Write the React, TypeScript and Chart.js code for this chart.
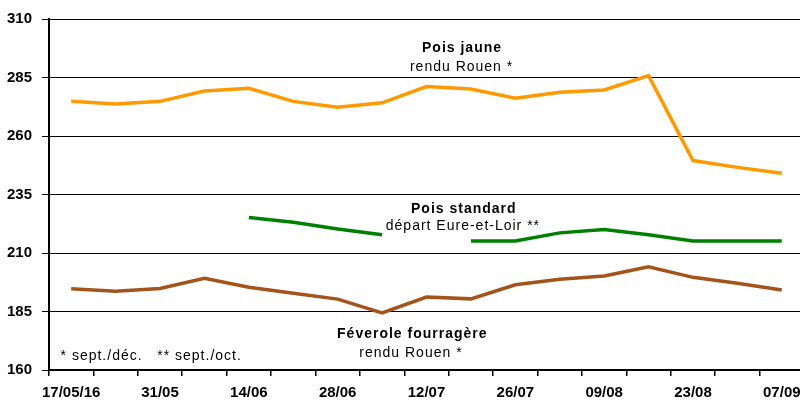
import React, { useEffect, useRef } from "react";
import { Chart, registerables } from "chart.js";

Chart.register(...registerables);

const categories = [
  "17/05/16", "24/05", "31/05", "07/06", "14/06", "21/06", "28/06", "05/07",
  "12/07", "19/07", "26/07", "02/08", "09/08", "16/08", "23/08", "30/08", "07/09",
];

const poisJaune = [
  274.8, 273.7, 274.8, 279.2, 280.4, 274.8, 272.3, 274.2,
  281.1, 280.1, 276.1, 278.7, 279.7, 285.8, 249.5, 246.6, 244.1,
];

const poisStandard = [
  null, null, null, null, 225.2, 223.1, 220.3, 217.8,
  null, 215.1, 215.1, 218.6, 220.0, 217.8, 215.1, 215.1, 215.1,
];

const feverole = [
  194.7, 193.7, 194.8, 199.2, 195.4, 192.8, 190.3, 184.4,
  191.2, 190.4, 196.4, 198.8, 200.2, 204.1, 199.6, 197.1, 194.2,
];

const yMin = 160;
const yMax = 310;
const yStep = 25;

// text annotations: [text, category position, value position, bold, align]
const annotations: [string, number, number, boolean, "center" | "left"][] = [
  ["Pois jaune", 8.8, 295.9, true, "center"],
  ["rendu Rouen *", 8.79, 287.8, false, "center"],
  ["Pois standard", 8.84, 227.1, true, "center"],
  ["départ Eure-et-Loir **", 8.82, 220.0, false, "center"],
  ["Féverole fourragère", 7.68, 173.7, true, "center"],
  ["rendu Rouen *", 7.65, 165.6, false, "center"],
  ["* sept./déc.   ** sept./oct.", -0.24, 164.2, false, "left"],
];

const FONT = '"Liberation Sans", Arial, Helvetica, sans-serif';

const textPlugin = {
  id: "textAnnotations",
  afterDraw(chart: any) {
    const ctx = chart.ctx;
    const xs = chart.scales.x;
    const ys = chart.scales.y;
    ctx.save();
    ctx.fillStyle = "#000";
    ctx.textBaseline = "alphabetic";
    for (const [text, xv, yv, bold, align] of annotations) {
      ctx.font = `${bold ? "bold " : ""}14px ${FONT}`;
      (ctx as any).letterSpacing = "1px";
      ctx.textAlign = align;
      ctx.fillText(text, xs.getPixelForValue(xv), ys.getPixelForValue(yv));
    }
    ctx.restore();
  },
};

export default function App() {
  const ref = useRef<HTMLCanvasElement | null>(null);

  useEffect(() => {
    if (!ref.current) return;
    const chart = new Chart(ref.current, {
      type: "line",
      data: {
        labels: categories,
        datasets: [
          {
            label: "Pois jaune",
            data: poisJaune,
            borderColor: "#FF9900",
            borderWidth: 3.5,
            pointRadius: 0,
            tension: 0,
          },
          {
            label: "Pois standard",
            data: poisStandard as any,
            borderColor: "#008000",
            borderWidth: 3.5,
            pointRadius: 0,
            tension: 0,
            spanGaps: false,
          },
          {
            label: "Féverole fourragère",
            data: feverole,
            borderColor: "#A3541A",
            borderWidth: 3.5,
            pointRadius: 0,
            tension: 0,
          },
        ],
      },
      options: {
        responsive: false,
        animation: false,
        devicePixelRatio: 1,
        layout: { padding: { top: 16, right: 1, left: 0, bottom: 0 } },
        plugins: {
          legend: { display: false },
          tooltip: { enabled: false },
        },
        scales: {
          x: {
            type: "category",
            offset: true,
            afterFit: (s: any) => {
              s.height = 30;
              s.paddingLeft = 0;
              s.paddingRight = 0;
            },
            grid: {
              offset: true,
              drawOnChartArea: false,
              drawTicks: true,
              tickLength: 6,
              color: "#000",
              lineWidth: 1.5,
            },
            border: { display: true, color: "#000", width: 2 },
            ticks: {
              autoSkip: false,
              maxRotation: 0,
              padding: 8,
              color: "#000",
              font: { family: FONT, size: 15, weight: "bold" },
              callback: (_v: any, i: number) => (i % 2 === 0 ? categories[i] : ""),
            },
          },
          y: {
            min: yMin,
            max: yMax,
            afterFit: (s: any) => {
              s.width = 49;
            },
            grid: {
              color: "#000",
              lineWidth: 1,
              tickLength: 7,
            },
            border: { display: true, color: "#000", width: 2 },
            ticks: {
              stepSize: yStep,
              padding: 10,
              color: "#000",
              font: { family: FONT, size: 15, weight: "bold" },
            },
          },
        },
      },
      plugins: [textPlugin],
    });
    return () => chart.destroy();
  }, []);

  return (
    <div
      style={{
        position: "fixed",
        left: 0,
        top: 0,
        width: 805,
        height: 400,
        background: "#fff",
      }}
    >
      <canvas ref={ref} width={805} height={400} />
    </div>
  );
}
